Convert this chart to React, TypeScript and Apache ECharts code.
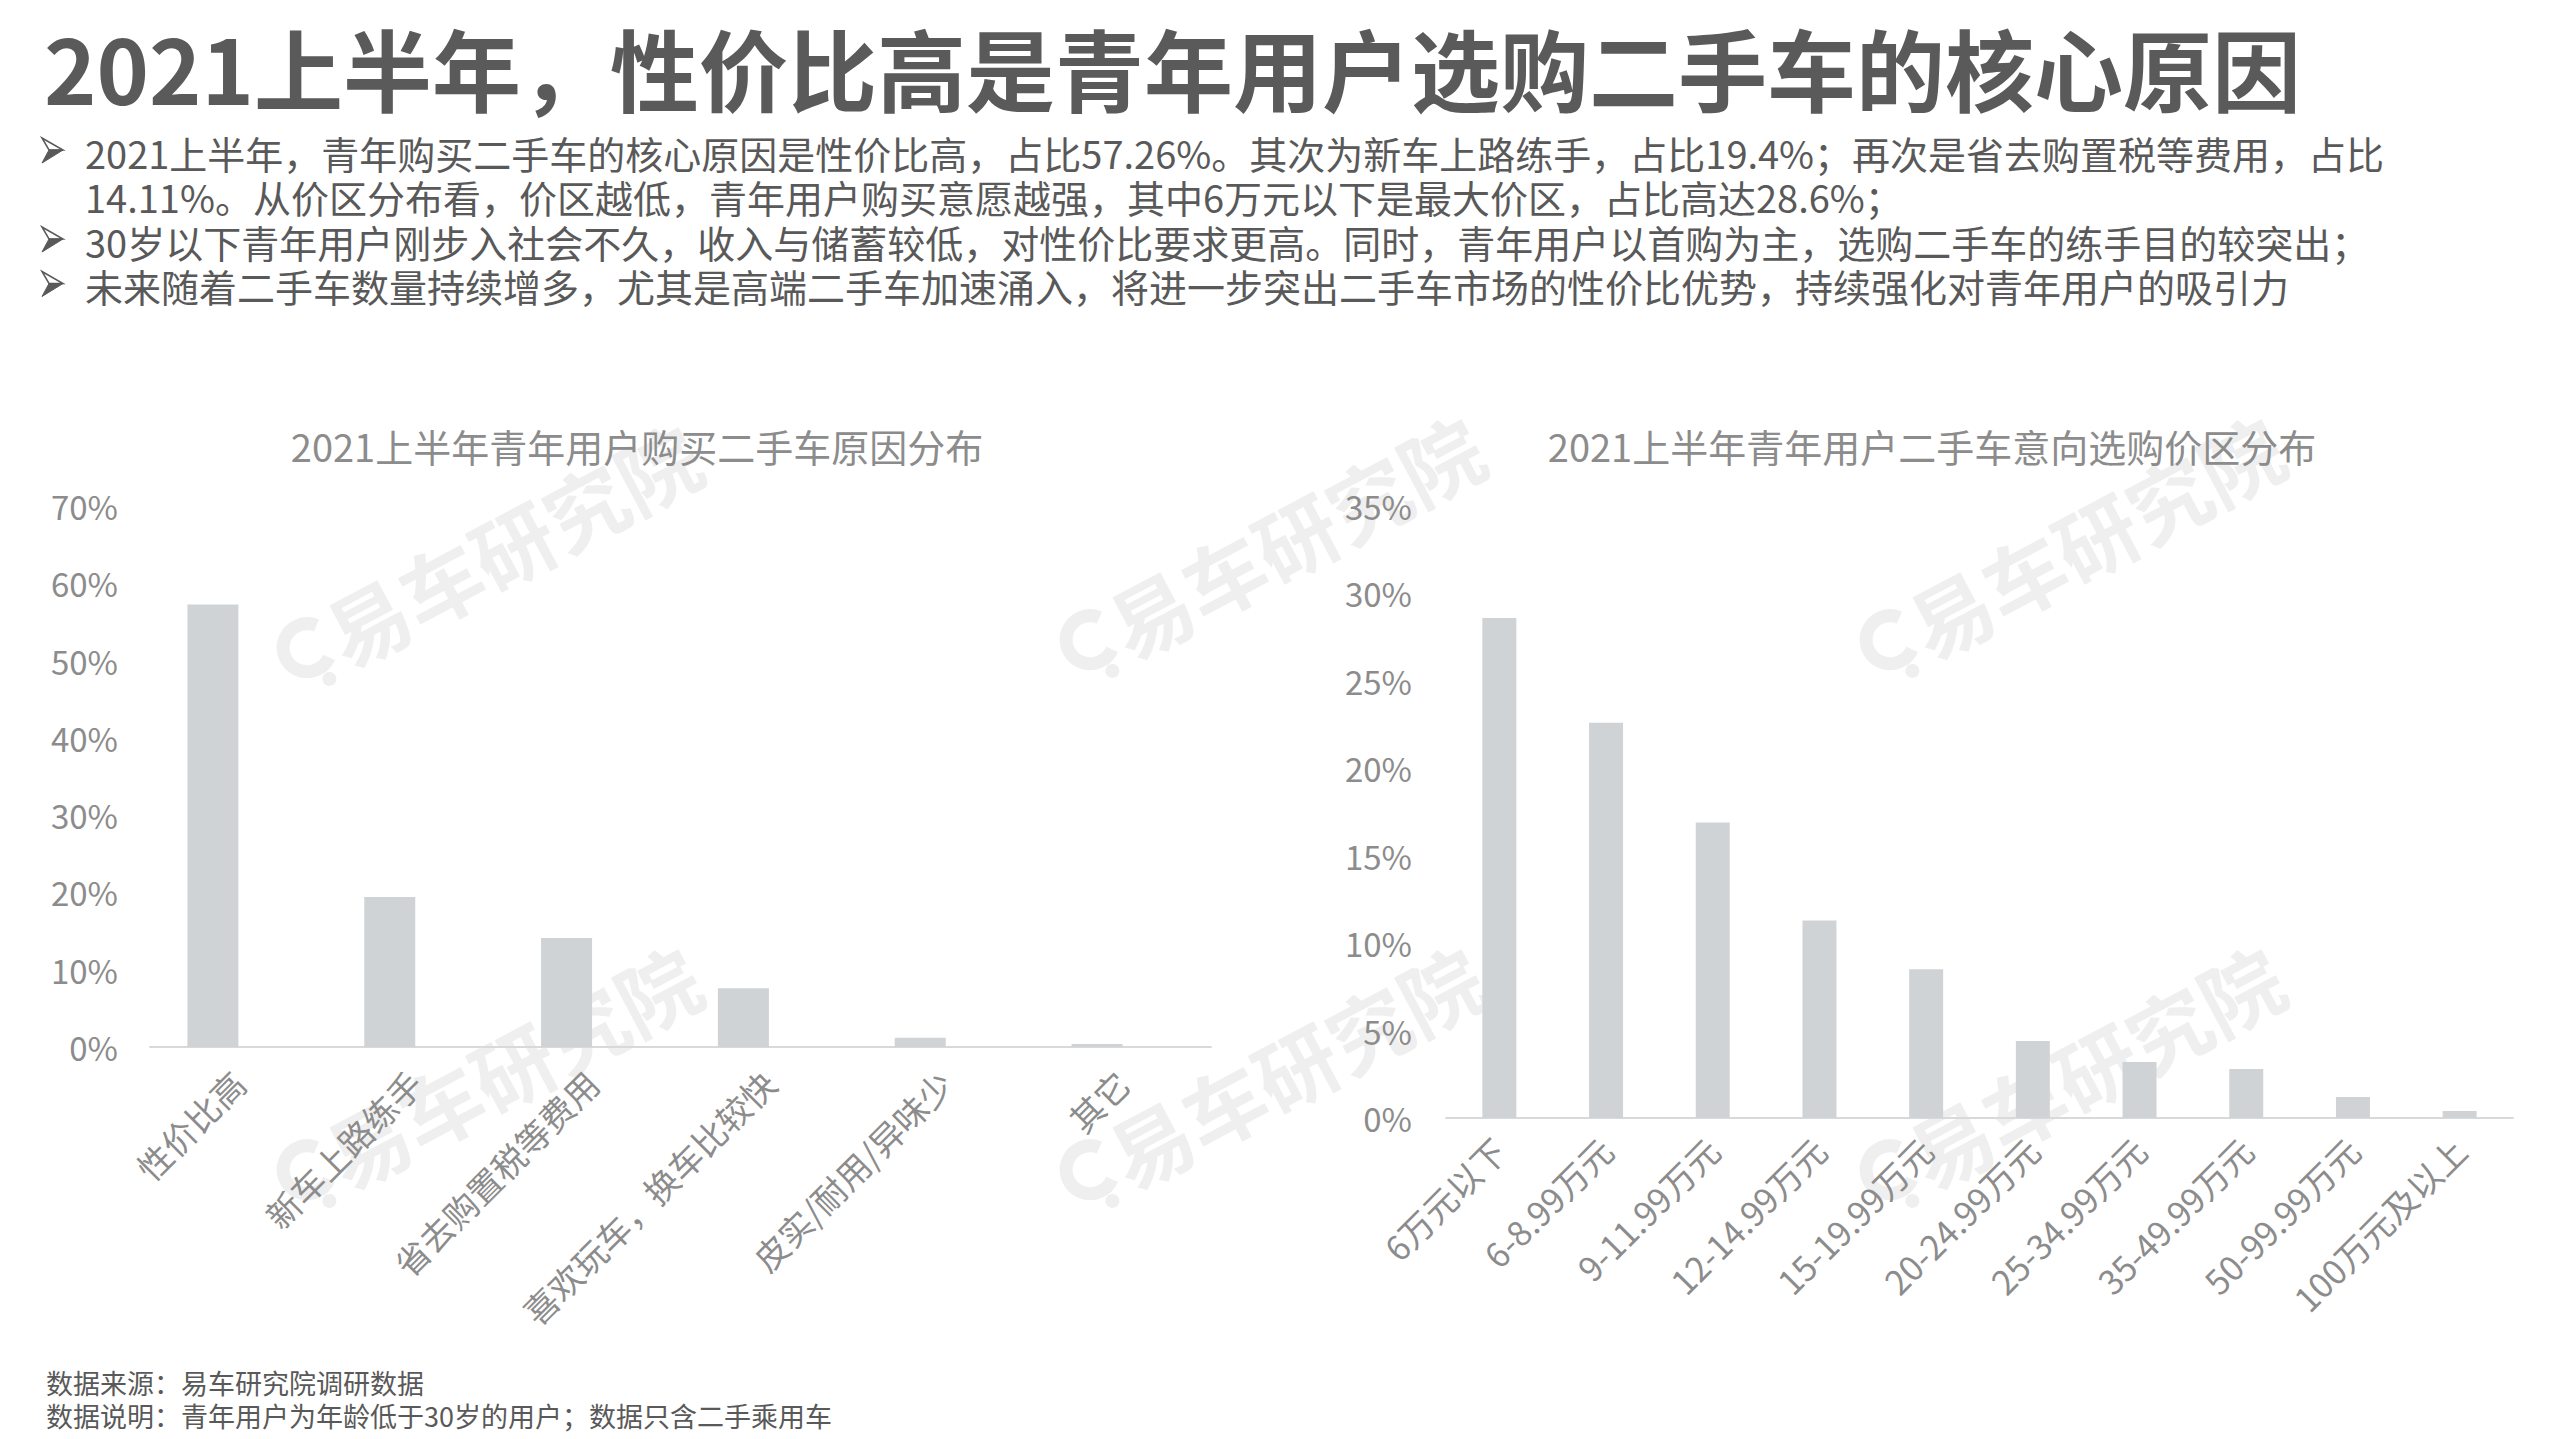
import React, { useEffect, useRef } from "react";
import * as echarts from "echarts";

const mainTitle = "2021上半年，性价比高是青年用户选购二手车的核心原因";
const bulletLines = [
  { arrow: true, text: "2021上半年，青年购买二手车的核心原因是性价比高，占比57.26%。其次为新车上路练手，占比19.4%；再次是省去购置税等费用，占比" },
  { arrow: false, text: "14.11%。从价区分布看，价区越低，青年用户购买意愿越强，其中6万元以下是最大价区，占比高达28.6%；" },
  { arrow: true, text: "30岁以下青年用户刚步入社会不久，收入与储蓄较低，对性价比要求更高。同时，青年用户以首购为主，选购二手车的练手目的较突出；" },
  { arrow: true, text: "未来随着二手车数量持续增多，尤其是高端二手车加速涌入，将进一步突出二手车市场的性价比优势，持续强化对青年用户的吸引力" },
];
const footnotes = ["数据来源：易车研究院调研数据", "数据说明：青年用户为年龄低于30岁的用户；数据只含二手乘用车"];

const leftTitle = "2021上半年青年用户购买二手车原因分布";
const leftCategories = ["性价比高", "新车上路练手", "省去购置税等费用", "喜欢玩车，换车比较快", "皮实/耐用/异味少", "其它"];
const leftValues = [57.26, 19.4, 14.11, 7.6, 1.2, 0.4];

const rightTitle = "2021上半年青年用户二手车意向选购价区分布";
const rightCategories = ["6万元以下", "6-8.99万元", "9-11.99万元", "12-14.99万元", "15-19.99万元", "20-24.99万元", "25-34.99万元", "35-49.99万元", "50-99.99万元", "100万元及以上"];
const rightValues = [28.6, 22.6, 16.9, 11.3, 8.5, 4.4, 3.2, 2.8, 1.2, 0.4];

const watermarkText = "易车研究院";
const watermarkCenters = [
  [490, 555], [1273, 547], [2073, 547],
  [490, 1077], [1273, 1077], [2073, 1077],
];

const FONT = '"Noto Sans CJK SC", "Noto Sans", sans-serif';
const BAR = "#d0d3d6";
const AXIS_TXT = "#8c8c8c";

export default function App() {
  const ref = useRef<HTMLDivElement>(null);
  useEffect(() => {
    const chart = echarts.init(ref.current!, null, { renderer: "svg" });
    const graphics: any[] = [];
    watermarkCenters.forEach(([x, y]) => {
      graphics.push({
        type: "group",
        x,
        y,
        rotation: (28 * Math.PI) / 180,
        z: 0,
        children: [
          { type: "arc", x: -205, y: -4, shape: { cx: 0, cy: 0, r: 24, startAngle: 0.9, endAngle: 5.6 }, style: { stroke: "#efefef", lineWidth: 13, fill: null } },
          { type: "circle", x: -200, y: 34, shape: { cx: 0, cy: 0, r: 7 }, style: { fill: "#efefef" } },
          { type: "text", x: 25, y: 0, style: { text: watermarkText, font: `bold 82px ${FONT}`, fill: "#efefef", align: "center", verticalAlign: "middle" } },
        ],
      });
    });
    graphics.push({
      type: "text", x: 44, y: 66,
      style: { text: mainTitle, font: `bold 89px ${FONT}`, fill: "#5a5a5a", verticalAlign: "middle", lineHeight: 89 },
    });
    const LH = 44.5;
    const firstY = 152 - LH / 2;
    bulletLines.forEach((l, i) => {
      if (!l.arrow) return;
      const cy = 150 + i * LH;
      graphics.push({
        type: "polygon",
        shape: { points: [[42, cy - 12], [63, cy], [49, cy]] },
        style: { fill: "#ffffff", stroke: "#595959", lineWidth: 1.5, lineJoin: "miter" },
      });
      graphics.push({
        type: "polygon",
        shape: { points: [[42, cy + 13], [63, cy], [49, cy]] },
        style: { fill: "#595959", stroke: "#595959", lineWidth: 1 },
      });
    });
    graphics.push({
      type: "text", x: 85, y: firstY,
      style: { text: bulletLines.map((l) => l.text).join("\n"), font: `38px ${FONT}`, fill: "#595959", verticalAlign: "top", lineHeight: LH },
    });
    graphics.push({
      type: "text", x: 46, y: 1382 - 16.5,
      style: { text: footnotes.join("\n"), font: `27px ${FONT}`, fill: "#595959", verticalAlign: "top", lineHeight: 33 },
    });

    const catAxis = (gi: number, data: string[], margin: number) => ({
      type: "category",
      gridIndex: gi,
      data,
      axisTick: { show: false },
      axisLine: { lineStyle: { color: "#d9d9d9", width: 2 } },
      axisLabel: { rotate: 45, interval: 0, fontSize: 34, color: AXIS_TXT, fontFamily: FONT, margin },
    });
    const valAxis = (gi: number, max: number, interval: number, margin: number) => ({
      type: "value",
      gridIndex: gi,
      min: 0,
      max,
      interval,
      splitLine: { show: false },
      axisLine: { show: false },
      axisTick: { show: false },
      axisLabel: { formatter: "{value}%", fontSize: 33, color: AXIS_TXT, fontFamily: FONT, margin },
    });

    chart.setOption({
      animation: false,
      backgroundColor: "#ffffff",
      title: [
        { text: leftTitle, left: 632, top: 440, textAlign: "center", textVerticalAlign: "middle", textStyle: { fontSize: 38, fontWeight: "normal", color: AXIS_TXT, fontFamily: FONT } },
        { text: rightTitle, left: 1927, top: 440, textAlign: "center", textVerticalAlign: "middle", textStyle: { fontSize: 38, fontWeight: "normal", color: AXIS_TXT, fontFamily: FONT } },
      ],
      graphic: graphics,
      grid: [
        { left: 150, top: 506, width: 1061, height: 541 },
        { left: 1446, top: 506, width: 1067, height: 612 },
      ],
      xAxis: [catAxis(0, leftCategories, 30), catAxis(1, rightCategories, 26)],
      yAxis: [valAxis(0, 70, 10, 32), valAxis(1, 35, 5, 34)],
      series: [
        { type: "bar", name: "原因", xAxisIndex: 0, yAxisIndex: 0, data: leftValues, barWidth: 51, barGap: "0%", itemStyle: { color: BAR }, z: 3 },
        { type: "bar", name: "空", xAxisIndex: 0, yAxisIndex: 0, data: leftCategories.map(() => null), barWidth: 51, barGap: "0%", itemStyle: { color: BAR }, z: 3 },
        { type: "bar", name: "价区", xAxisIndex: 1, yAxisIndex: 1, data: rightValues, barWidth: 34, itemStyle: { color: BAR }, z: 3 },
      ],
    });
    return () => chart.dispose();
  }, []);
  return <div ref={ref} style={{ position: "fixed", left: 0, top: 0, width: 2559, height: 1439 }} />;
}
